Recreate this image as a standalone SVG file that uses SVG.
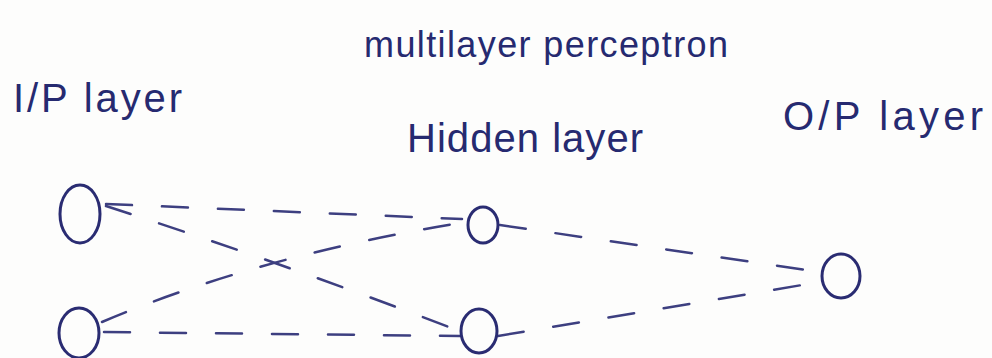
<svg xmlns="http://www.w3.org/2000/svg" width="992" height="358" viewBox="0 0 992 358">
  <style>
    .bg { fill: #fdfdfc; }
    .ink { font-family: "Liberation Sans", Arial, sans-serif; fill: #262a70; }
    .node { fill: none; stroke: #2a2c72; stroke-width: 3; }
    .edge { fill: none; stroke: #3d3f80; stroke-width: 2.5; stroke-linecap: round; stroke-dasharray: 26 30; }
  </style>
  <rect class="bg" x="0" y="0" width="992" height="358"/>

  <!-- titles -->
  <text id="title" class="ink" x="364" y="57" font-size="36" textLength="364">multilayer perceptron</text>
  <text id="label-input" class="ink" x="13" y="112" font-size="40" textLength="169">I/P layer</text>
  <text id="label-hidden" class="ink" x="407" y="152" font-size="40" textLength="236">Hidden layer</text>
  <text id="label-output" class="ink" x="783" y="130" font-size="40" textLength="200">O/P layer</text>

  <!-- connectors -->
  <g id="connectors">
    <path class="edge" d="M 106 204 L 462 219"/>
    <path class="edge" d="M 106 206 Q 280 262 462 332"/>
    <path class="edge" d="M 102 322 Q 260 255 466 222"/>
    <path class="edge" d="M 104 332 L 460 336"/>
    <path class="edge" d="M 500 225 L 820 272"/>
    <path class="edge" d="M 498 336 L 820 282"/>
  </g>

  <!-- nodes -->
  <g id="input-1"><ellipse class="node" cx="80" cy="214" rx="20" ry="29"/></g>
  <g id="input-2"><ellipse class="node" cx="79" cy="333" rx="20" ry="25"/></g>
  <g id="hidden-1"><ellipse class="node" cx="483" cy="225" rx="15" ry="18"/></g>
  <g id="hidden-2"><ellipse class="node" cx="479" cy="331" rx="18" ry="22"/></g>
  <g id="output-1"><ellipse class="node" cx="841" cy="276" rx="19" ry="22"/></g>
</svg>
